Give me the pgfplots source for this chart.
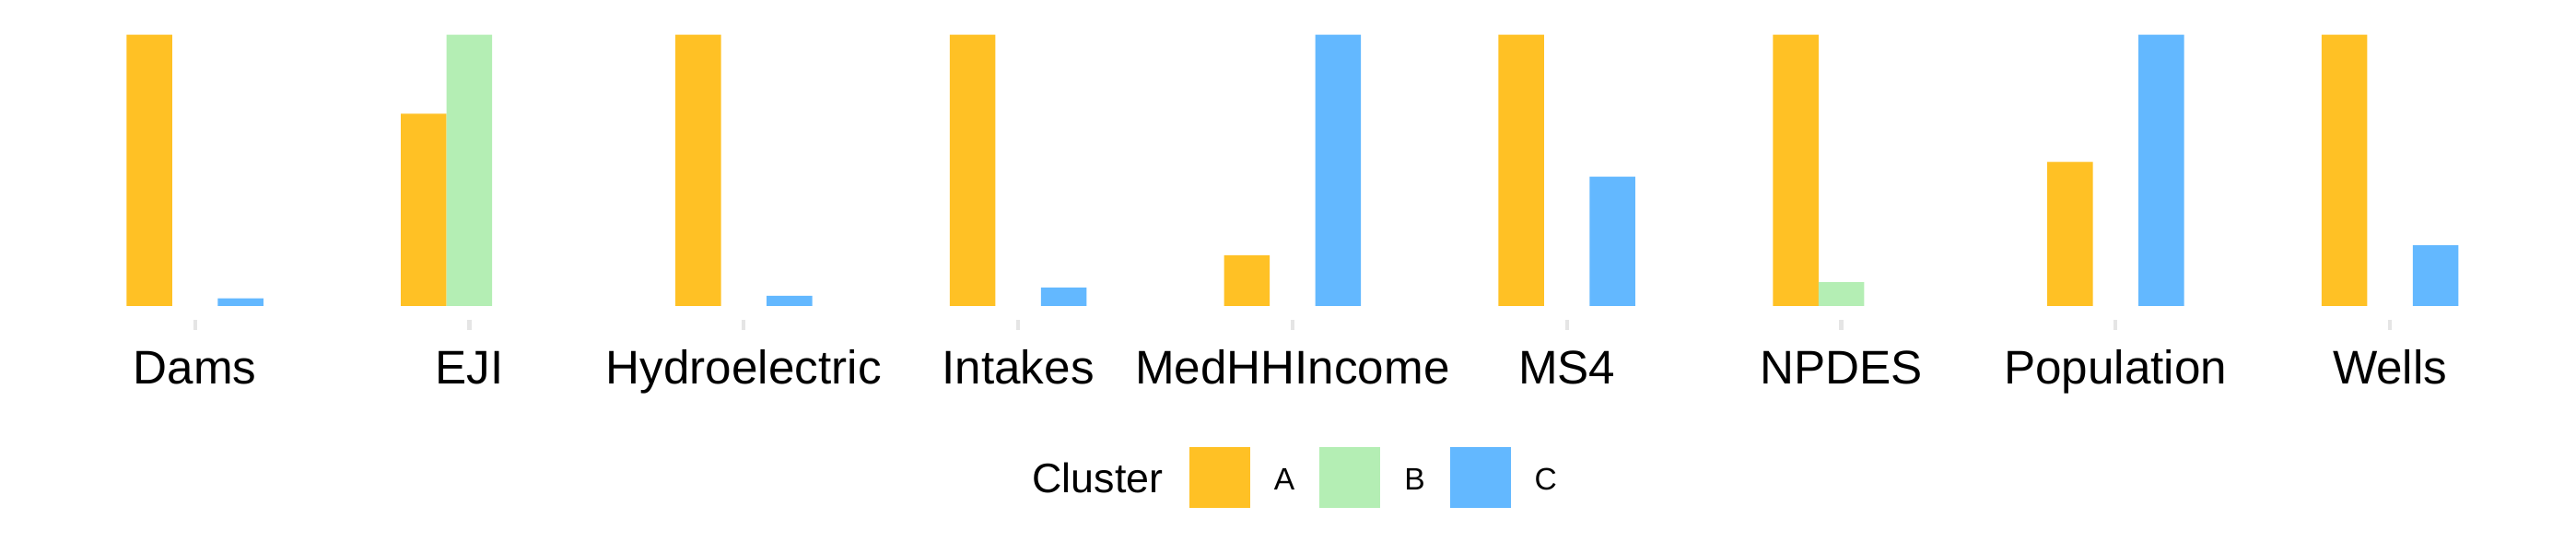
\documentclass[border=0pt]{standalone}
\usepackage{pgfplots}
\pgfplotsset{compat=1.18}
\usepackage{fontspec}
\setmainfont{Liberation Sans}
\definecolor{cA}{HTML}{FFC125}
\definecolor{cB}{HTML}{B4EEB4}
\definecolor{cC}{HTML}{63B8FF}
\definecolor{tickgray}{HTML}{E5E5E5}
\begin{document}
\begin{tikzpicture}
\useasboundingbox (0,0) rectangle (699pt,150pt);
\begin{axis}[
  at={(8.25pt,63.325pt)}, anchor=south west,
  scale only axis, width=684.95pt, height=80.93pt,
  xmin=-0.6, xmax=8.6, ymin=-0.05, ymax=1.05,
  enlargelimits=false,
  axis x line*=bottom, axis y line=none,
  axis line style={draw=none},
  ytick=\empty,
  xtick={0,1,2,3,4,5,6,7,8},
  xticklabels={Dams,EJI,Hydroelectric,Intakes,MedHHIncome,MS4,NPDES,Population,Wells},
  tick align=outside,
  major tick length=2.85pt,
  xtick style={draw=tickgray, line width=1.05pt},
  xticklabel style={font=\fontsize{12.8}{14}\selectfont, anchor=base, yshift=-14.575pt},
  ybar, bar width=0.1662,
  legend style={at={(axis description cs:0.45912,-0.5289)}, anchor=west,
    draw=none, fill=none, inner sep=0pt, outer sep=0pt,
    legend columns=3,
    nodes={inner sep=0pt, font=\fontsize{8.4}{10}\selectfont},
    /tikz/every odd column/.append style={column sep=6.5pt},
    /tikz/every even column/.append style={column sep=6.75pt}},
  legend image code/.code={\fill[#1] (0pt,-7.05pt) rectangle (16.5pt,9.45pt);},
]
\addplot[fill=cA, draw=none, bar shift=-0.1662] coordinates {
  (0,1) (1,0.709) (2,1) (3,1) (4,0.187) (5,1) (6,1) (7,0.531) (8,1)};
\addplot[fill=cB, draw=none, bar shift=0] coordinates {
  (1,1) (6,0.088)};
\addplot[fill=cC, draw=none, bar shift=0.1662] coordinates {
  (0,0.028) (2,0.038) (3,0.068) (4,1) (5,0.477) (7,1) (8,0.224)};
\legend{A,B,C}
\end{axis}
\node[anchor=base west, inner sep=0pt, font=\fontsize{11.2}{13}\selectfont] at (279.9pt,16.4pt) {Cluster};
\end{tikzpicture}
\end{document}
